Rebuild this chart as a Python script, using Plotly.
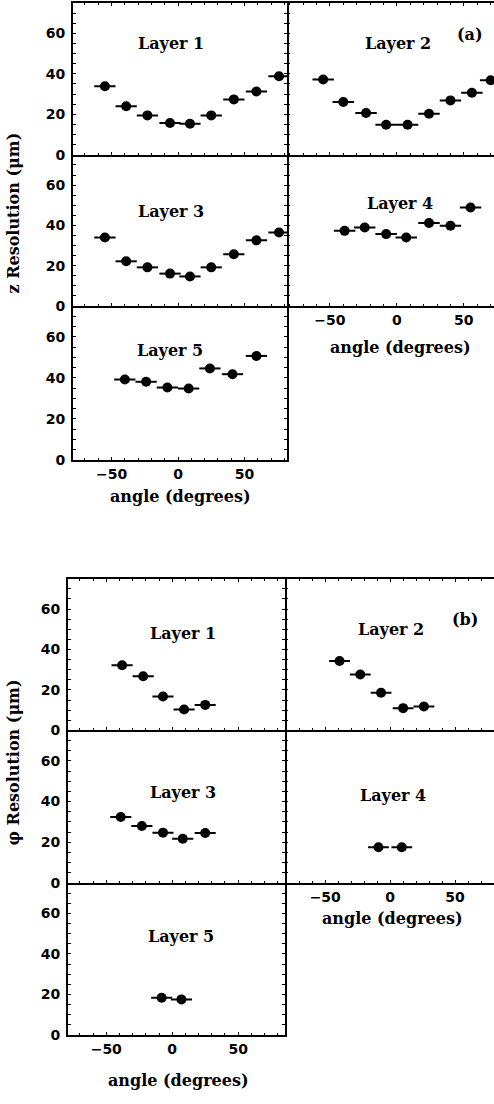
import plotly.graph_objects as go

# ---------------- data (a): z resolution ----------------
a_l1_angle = [-55, -39, -23, -6, 9, 25, 42, 59, 76]
a_l1_res = [33.9, 24.0, 19.5, 15.7, 15.4, 19.5, 27.4, 31.3, 38.8]
a_l2_angle = [-55, -40, -23, -8, 8, 24, 40, 56, 70]
a_l2_res = [37.2, 26.1, 20.7, 14.9, 14.9, 20.3, 26.9, 30.7, 36.8]
a_l3_angle = [-55, -39, -23, -6, 9, 25, 42, 59, 76]
a_l3_res = [34.0, 22.2, 19.2, 16.1, 14.7, 19.2, 25.7, 32.6, 36.5]
a_l4_angle = [-39, -24, -8, 7, 24, 40, 55]
a_l4_res = [37.3, 39.0, 35.7, 34.0, 41.2, 39.9, 48.9]
a_l5_angle = [-40, -24, -8, 8, 24, 41, 59]
a_l5_res = [39.2, 38.1, 35.3, 34.8, 44.6, 41.8, 50.7]

# ---------------- data (b): phi resolution ----------------
b_l1_angle = [-38, -22, -7, 9, 25]
b_l1_res = [32.2, 26.8, 16.8, 10.3, 12.6]
b_l2_angle = [-39, -23, -7, 10, 26]
b_l2_res = [34.3, 27.6, 18.6, 11.0, 11.8]
b_l3_angle = [-39, -23, -7, 8, 25]
b_l3_res = [32.4, 28.0, 24.7, 21.7, 24.5]
b_l4_angle = [-9, 9]
b_l4_res = [17.5, 17.5]
b_l5_angle = [-8, 7]
b_l5_res = [18.4, 17.6]

angle_halfwidth = 8  # horizontal error bar (bin half-width, degrees)

y_ticks = [0, 20, 40, 60]
x_ticks = [-50, 0, 50]
layer_names = ["Layer 1", "Layer 2", "Layer 3", "Layer 4", "Layer 5"]

W, H = 494, 1104


def fx(px):
    return px / W


def fy(py):
    return 1 - py / H


# panel geometry (pixels): x0, x1, ytop, ybottom, xrange, show x tick labels, column, top row
panels = [
    # (a)
    (73, 287, 3, 156, [-79, 82], False, "L", True),
    (287, 494, 3, 156, [-82, 72.5], False, "R", True),
    (73, 287, 156, 308.3, [-79, 82], False, "L", False),
    (287, 494, 156, 308.3, [-82, 72.5], True, "R", False),
    (73, 287, 308.3, 463.3, [-79, 82], True, "L", False),
    # (b)
    (68, 285, 583, 735.7, [-79, 85.5], False, "L", True),
    (285, 494, 583, 735.7, [-81, 80], False, "R", True),
    (68, 285, 735.7, 889.3, [-79, 85.5], False, "L", False),
    (285, 494, 735.7, 889.3, [-81, 80], True, "R", False),
    (68, 285, 889.3, 1042.7, [-79, 85.5], True, "L", False),
]

series = [
    (a_l1_angle, a_l1_res), (a_l2_angle, a_l2_res), (a_l3_angle, a_l3_res),
    (a_l4_angle, a_l4_res), (a_l5_angle, a_l5_res),
    (b_l1_angle, b_l1_res), (b_l2_angle, b_l2_res), (b_l3_angle, b_l3_res),
    (b_l4_angle, b_l4_res), (b_l5_angle, b_l5_res),
]

# label positions (data coords) for each panel
label_pos = [
    (-5, 55), (1, 55), (-5, 47), (2, 51), (-6, 53.5),
    (8, 47.7), (1, 50), (8, 44.6), (2, 43), (7, 48.6),
]

tickfont = dict(family="DejaVu Sans", size=14, color="black", weight="bold")
labfont = dict(family="DejaVu Serif", size=16, color="black", weight="bold")

fig = go.Figure()
layout = dict(
    width=W, height=H, margin=dict(l=0, r=0, t=0, b=0),
    paper_bgcolor="white", plot_bgcolor="white", showlegend=False,
)
annotations = []

for i, (p, (xs, ys)) in enumerate(zip(panels, series)):
    x0, x1, yt, yb, xr, showx, col, top = p
    n = i + 1
    xa = "xaxis" if n == 1 else f"xaxis{n}"
    ya = "yaxis" if n == 1 else f"yaxis{n}"
    xref = "x" if n == 1 else f"x{n}"
    yref = "y" if n == 1 else f"y{n}"
    layout[xa] = dict(
        domain=[fx(x0), fx(x1)], range=xr, anchor=yref,
        showgrid=False, zeroline=False, showline=True, linecolor="black", linewidth=2,
        mirror="ticks" if top else False,
        ticks="inside", ticklen=3, tickwidth=1, tickcolor="black",
        tickvals=x_ticks, showticklabels=showx, tickfont=tickfont,
        minor=dict(dtick=10, tick0=0, ticks="inside", ticklen=2, tickcolor="black"),
        fixedrange=True,
    )
    layout[ya] = dict(
        domain=[fy(yb), fy(yt)], range=[0, 75], anchor=xref,
        showgrid=False, zeroline=False,
        showline=(col == "L"), linecolor="black", linewidth=2,
        mirror="ticks" if col == "L" else False,
        ticks="inside", ticklen=3, tickwidth=1, tickcolor="black",
        tickvals=y_ticks, showticklabels=(col == "L"), tickfont=tickfont,
        ticklabelstandoff=3,
        minor=dict(dtick=5, tick0=0, ticks="inside", ticklen=3, tickcolor="black"),
        fixedrange=True,
    )
    fig.add_trace(go.Scatter(
        x=xs, y=ys, mode="markers", xaxis=xref, yaxis=yref,
        marker=dict(symbol="circle", size=10, color="black"),
        error_x=dict(type="data", array=[angle_halfwidth] * len(xs),
                     color="black", thickness=2, width=0),
        cliponaxis=False,
    ))
    lx, ly = label_pos[i]
    annotations.append(dict(
        x=lx, y=ly, xref=xref, yref=yref, text=layer_names[i % 5],
        showarrow=False, font=labfont, xanchor="center", yanchor="middle",
    ))

# panel tags
annotations.append(dict(x=54.6, y=59.3, xref="x2", yref="y2", text="(a)",
                        showarrow=False, font=labfont))
annotations.append(dict(x=57.7, y=55, xref="x7", yref="y7", text="(b)",
                        showarrow=False, font=labfont))

# axis titles
titlefont = dict(family="DejaVu Serif", size=16, color="black", weight="bold")
for (cx, cy) in [(180, 500), (400, 350), (178, 1088), (392, 925)]:
    annotations.append(dict(x=fx(cx), y=fy(cy), xref="paper", yref="paper",
                            text="angle (degrees)", showarrow=False, font=titlefont,
                            xanchor="center", yanchor="middle"))
annotations.append(dict(x=fx(13), y=fy(215), xref="paper", yref="paper",
                        text="z Resolution (μm)", textangle=-90, showarrow=False,
                        font=titlefont, xanchor="center", yanchor="middle"))
annotations.append(dict(x=fx(13), y=fy(768), xref="paper", yref="paper",
                        text="φ Resolution (μm)", textangle=-90, showarrow=False,
                        font=titlefont, xanchor="center", yanchor="middle"))

layout["annotations"] = annotations
fig.update_layout(**layout)
fig.write_html("out.html")
